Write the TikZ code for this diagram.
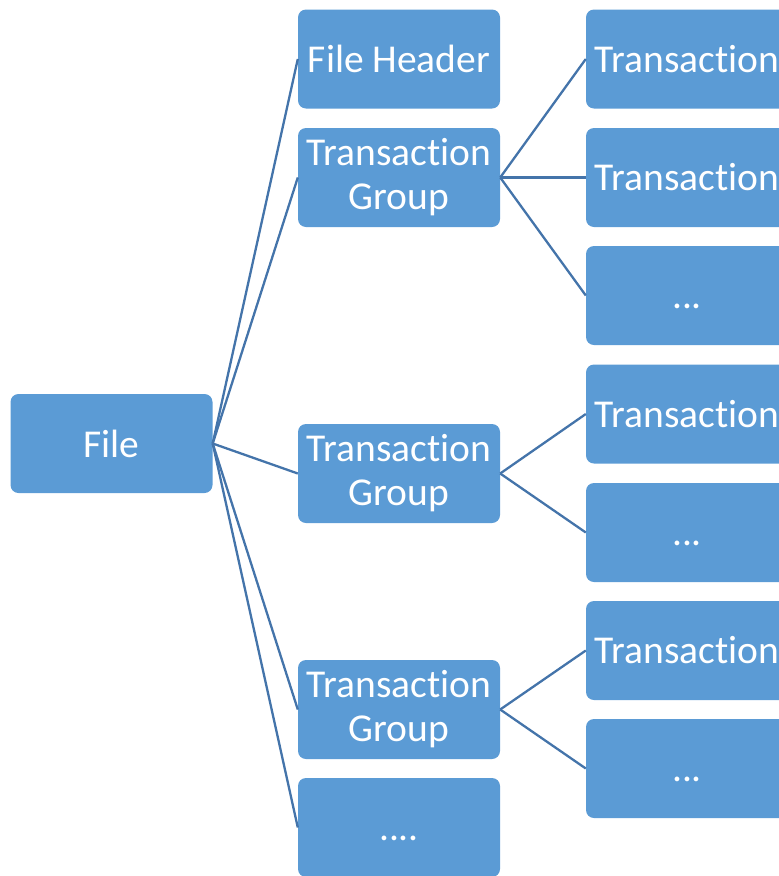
\documentclass[tikz,border=0pt]{standalone}
\usepackage{fontspec}
\setmainfont[Ligatures={NoCommon}]{Carlito}
\definecolor{boxblue}{HTML}{5B9BD5}
\definecolor{linkblue}{HTML}{4474AA}
\tikzset{box/.style={fill=boxblue, text=white, rounded corners=8pt, inner sep=0pt,
                     minimum width=202pt, minimum height=99pt, align=center,
                     font=\fontsize{39.5}{44}\selectfont},
         etc/.style={box, text height=25pt, text depth=0pt},
         link/.style={draw=linkblue, line width=2.3pt}}

\begin{document}
\begin{tikzpicture}[x=1pt,y=-1pt]
  \useasboundingbox (0,0) rectangle (779,876);
  \clip (0,0) rectangle (779,876);

  \node[box] (file) at (111.5,443.5) {File};

  \node[box] (head) at (399, 59.0) {File Header};
  \node[box] (grpa) at (399,177.5) {Transaction\\Group};
  \node[box] (grpb) at (399,473.5) {Transaction\\Group};
  \node[box] (grpc) at (399,709.5) {Transaction\\Group};
  \node[etc] (more) at (399,827.5) {....};

  \node[box] (tra)  at (687, 59.0) {Transaction};
  \node[box] (trb)  at (687,177.5) {Transaction};
  \node[etc] (dota) at (687,295.5) {...};
  \node[box] (trc)  at (687,414.0) {Transaction};
  \node[etc] (dotb) at (687,532.5) {...};
  \node[box] (trd)  at (687,650.5) {Transaction};
  \node[etc] (dotc) at (687,768.5) {...};

  \draw[link] (file.east) -- (head.west);
  \draw[link] (file.east) -- (grpa.west);
  \draw[link] (file.east) -- (grpb.west);
  \draw[link] (file.east) -- (grpc.west);
  \draw[link] (file.east) -- (more.west);

  \draw[link] (grpa.east) -- (tra.west);
  \draw[link] (grpa.east) -- (trb.west);
  \draw[link] (grpa.east) -- (dota.west);
  \draw[link] (grpb.east) -- (trc.west);
  \draw[link] (grpb.east) -- (dotb.west);
  \draw[link] (grpc.east) -- (trd.west);
  \draw[link] (grpc.east) -- (dotc.west);
\end{tikzpicture}
\end{document}
